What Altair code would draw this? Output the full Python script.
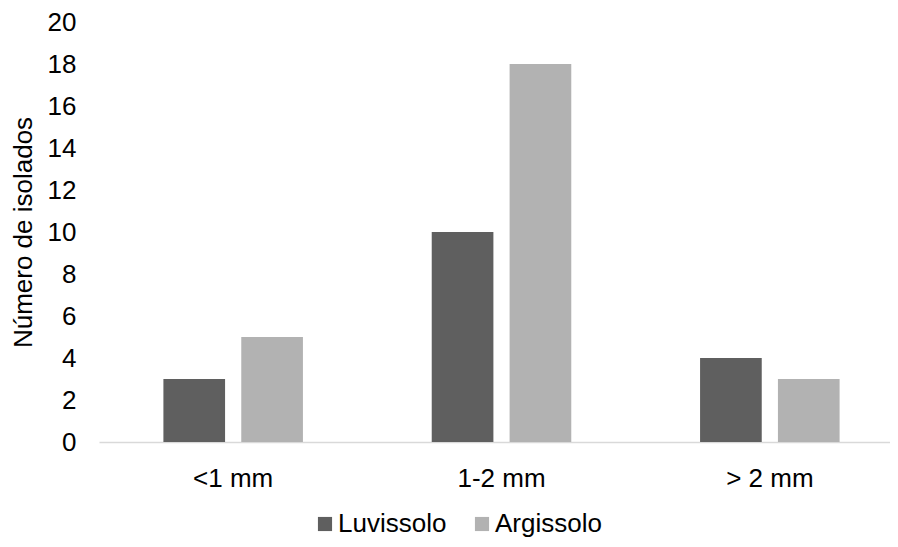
import altair as alt
import pandas as pd

categories = ["<1 mm", "1-2 mm", "> 2 mm"]
series = ["Luvissolo", "Argissolo"]
luvissolo = [3, 10, 4]
argissolo = [5, 18, 3]
colors = ["#5f5f5f", "#b2b2b2"]

rows = []
for c, l, a in zip(categories, luvissolo, argissolo):
    rows.append({"cat": c, "serie": series[0], "val": l})
    rows.append({"cat": c, "serie": series[1], "val": a})
df = pd.DataFrame(rows)

FONT = "Liberation Sans"
FS = 26

chart = alt.Chart(df).mark_bar(stroke=None).encode(
    x=alt.X("cat:N", sort=categories,
            scale=alt.Scale(paddingInner=0.48, paddingOuter=0.24, range=[0, 805]),
            axis=alt.Axis(title=None, labelAngle=0, labelFontSize=FS, labelFont=FONT,
                          labelColor="#000000", labelPadding=23, ticks=False,
                          domainColor="#d9d9d9", domainWidth=1.5)),
    xOffset=alt.XOffset("serie:N", sort=series,
                        scale=alt.Scale(paddingInner=0.208, paddingOuter=0)),
    y=alt.Y("val:Q", scale=alt.Scale(domain=[0, 20], nice=False),
            axis=alt.Axis(title="Número de isolados", values=list(range(0, 21, 2)),
                          titleFontSize=FS, titleFont=FONT, titleFontWeight="normal",
                          titleColor="#000000", titlePadding=11,
                          labelFontSize=FS, labelFont=FONT, labelColor="#000000",
                          labelPadding=23, ticks=False, domain=False, grid=False)),
    color=alt.Color("serie:N", sort=series,
                    scale=alt.Scale(domain=series, range=colors),
                    legend=alt.Legend(title=None, orient="none", direction="horizontal",
                                      legendX=213, legendY=489,
                                      labelFontSize=FS, labelFont=FONT, labelColor="#000000",
                                      symbolType="square", symbolSize=200,
                                      symbolStrokeWidth=0, columnPadding=22,
                                      labelOffset=0)),
).properties(
    width=791, height=420,
    autosize=alt.AutoSizeParams(type="none"),
    padding={"left": 91, "top": 14, "right": 0, "bottom": 97},
).configure_view(stroke=None)

chart.save("out.html", embed_options={"renderer": "svg", "actions": False})
